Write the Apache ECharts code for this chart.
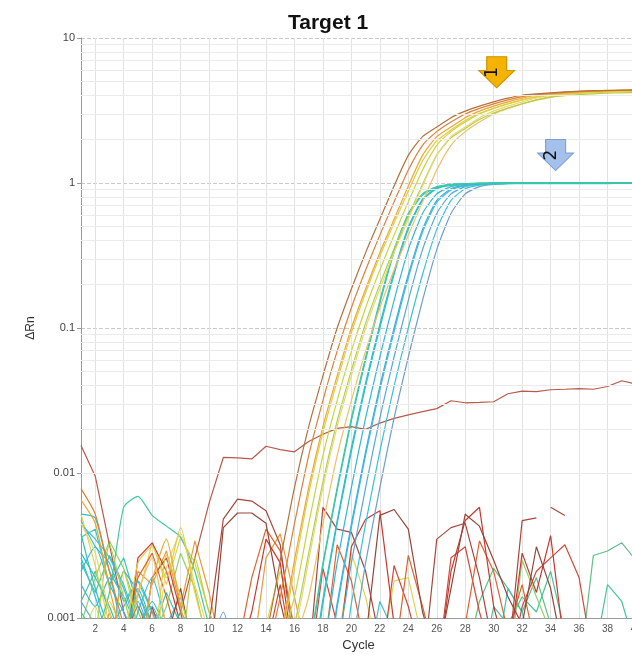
<!DOCTYPE html>
<html>
<head>
<meta charset="utf-8">
<title>Target 1</title>
<script src="https://cdn.jsdelivr.net/npm/echarts@6/dist/echarts.min.js"></script>
<style>
  html, body { margin: 0; padding: 0; background: #ffffff; }
  #chart { width: 632px; height: 656px; }
</style>
</head>
<body>
<div id="chart"></div>
<script>
// Amplification plot: delta Rn per cycle on a log scale.
const cycles = [1,2,3,4,5,6,7,8,9,10,11,12,13,14,15,16,17,18,19,20,21,22,23,24,25,26,27,28,29,30,31,32,33,34,35,36,37,38,39,40];

// Log-axis decade labels
const yTicks = [0.001, 0.01, 0.1, 1, 10];
// Faint lines between the decades (2..9 of each decade)
const minorLevels = [0.002,0.003,0.004,0.005,0.006,0.007,0.008,0.009,
                     0.02,0.03,0.04,0.05,0.06,0.07,0.08,0.09,
                     0.2,0.3,0.4,0.5,0.6,0.7,0.8,0.9,
                     2,3,4,5,6,7,8,9];

// Target 1, detector 1 wells (plateau about 4.3)
const wellA1 = [0.0006,0.0009,0.0005,0.0007,0.0012,0.0006,0.0004,0.0007,0.0005,0.0008,0.0006,0.0005,0.0007,0.00079,0.0025,0.00794,0.0209,0.0468,0.1,0.186,0.331,0.562,0.955,1.55,2.09,2.43,2.82,3.13,3.39,3.63,3.85,4.03,4.12,4.19,4.25,4.30,4.33,4.35,4.37,4.39];
const wellA2 = [0.0078,0.0052,0.0021,0.0009,0.0006,0.0011,0.0007,0.0005,0.0008,0.0006,0.0005,0.0007,0.0009,0.0006,0.0014,0.00447,0.0132,0.0316,0.0692,0.138,0.251,0.437,0.741,1.23,1.82,2.26,2.63,2.99,3.27,3.51,3.74,3.94,4.07,4.16,4.22,4.27,4.32,4.34,4.36,4.38];
const wellA3 = [0.0065,0.0045,0.0016,0.0007,0.0005,0.0018,0.0035,0.0012,0.0006,0.0008,0.0005,0.0006,0.0004,0.0007,0.00079,0.0025,0.00794,0.0209,0.0468,0.1,0.186,0.331,0.562,0.955,1.55,2.09,2.43,2.82,3.13,3.39,3.63,3.85,4.03,4.12,4.19,4.25,4.30,4.33,4.35,4.37];
const wellA4 = [0.0009,0.0006,0.0013,0.0008,0.0024,0.0031,0.0019,0.0042,0.0015,0.0007,0.0006,0.0009,0.0005,0.0006,0.0007,0.0022,0.0072,0.019,0.043,0.093,0.175,0.312,0.53,0.88,1.42,1.95,2.32,2.7,3.02,3.28,3.52,3.74,3.92,4.03,4.1,4.16,4.2,4.23,4.25,4.27];
const wellA5 = [0.0007,0.0012,0.0005,0.0021,0.0009,0.0006,0.0027,0.0014,0.0006,0.0005,0.0008,0.0006,0.0009,0.0005,0.0007,0.0014,0.00447,0.0132,0.0316,0.0692,0.138,0.251,0.437,0.741,1.23,1.82,2.26,2.63,2.99,3.27,3.51,3.74,3.94,4.07,4.16,4.22,4.27,4.31,4.33,4.35];
const wellA6 = [0.0045,0.0028,0.0011,0.0006,0.0008,0.0005,0.0022,0.0038,0.0017,0.0008,0.0005,0.0007,0.0006,0.0009,0.0005,0.00079,0.0025,0.00794,0.0209,0.0468,0.1,0.186,0.331,0.562,0.955,1.55,2.09,2.43,2.82,3.13,3.39,3.63,3.85,4.03,4.12,4.19,4.25,4.30,4.33,4.35];
const wellA7 = [0.0006,0.0008,0.0032,0.0014,0.0007,0.0009,0.0005,0.0006,0.0026,0.0011,0.0007,0.0005,0.0008,0.0006,0.0005,0.0009,0.0028,0.0087,0.0228,0.051,0.108,0.2,0.352,0.59,0.98,1.56,2.05,2.38,2.74,3.04,3.29,3.52,3.73,3.9,4.0,4.07,4.12,4.16,4.19,4.21];
const wellA8 = [0.0008,0.0005,0.0007,0.0005,0.0015,0.0026,0.0009,0.0006,0.0005,0.0008,0.0006,0.0005,0.0009,0.0006,0.0005,0.0007,0.0014,0.00447,0.0132,0.0316,0.0692,0.138,0.251,0.437,0.741,1.23,1.82,2.26,2.63,2.99,3.27,3.51,3.74,3.94,4.07,4.16,4.22,4.27,4.31,4.33];

// Target 1, detector 2 wells (plateau about 1.0)
const wellB1 = [0.0011,0.0008,0.0015,0.0058,0.0069,0.0051,0.0043,0.0036,0.0021,0.0009,0.0006,0.0005,0.0008,0.0006,0.0005,0.0004,0.00063,0.0024,0.00794,0.024,0.0631,0.155,0.347,0.617,0.841,0.944,0.977,0.989,0.995,0.998,1.0,1.0,1.002,1.0,1.003,1.001,1.0,1.002,1.003,1.002];
const wellB2 = [0.0028,0.0019,0.0012,0.0007,0.0016,0.0009,0.0005,0.0011,0.0007,0.0005,0.0006,0.0004,0.0007,0.0005,0.0006,0.0004,0.0006,0.0023,0.0076,0.0229,0.06,0.148,0.333,0.598,0.825,0.93,0.965,0.978,0.985,0.988,0.99,0.991,0.99,0.992,0.991,0.99,0.992,0.991,0.993,0.992];
const wellB3 = [0.0052,0.0049,0.0021,0.0014,0.0009,0.0013,0.0008,0.0005,0.0007,0.0006,0.0005,0.0008,0.0006,0.0005,0.0007,0.0004,0.000316,0.00126,0.00447,0.0141,0.0398,0.1,0.234,0.479,0.759,0.912,0.966,0.984,0.993,0.997,1.0,1.001,1.0,1.002,1.001,1.0,1.001,1.002,1.0,1.001];
const wellB4 = [0.0038,0.0016,0.0009,0.0012,0.0018,0.0011,0.0006,0.0005,0.0008,0.0005,0.0004,0.0006,0.0005,0.0007,0.0004,0.0005,0.0004,0.00135,0.0047,0.015,0.042,0.106,0.245,0.495,0.775,0.925,0.975,0.99,0.998,1.002,1.005,1.004,1.006,1.005,1.007,1.006,1.005,1.007,1.006,1.008];
const wellB5 = [0.0021,0.0031,0.0017,0.0011,0.0007,0.0005,0.0009,0.0006,0.0004,0.0005,0.0007,0.0005,0.0004,0.0006,0.0005,0.0004,0.0005,0.00063,0.0024,0.00794,0.024,0.0631,0.155,0.347,0.617,0.841,0.944,0.977,0.989,0.995,0.998,1.0,1.001,1.0,1.002,1.001,1.0,1.002,1.001,1.0];
const wellB6 = [0.0017,0.0012,0.0019,0.0008,0.0013,0.0007,0.0005,0.0006,0.0004,0.0005,0.0006,0.0004,0.0005,0.0007,0.0004,0.0005,0.0004,0.000316,0.00126,0.00447,0.0141,0.0398,0.1,0.234,0.479,0.759,0.912,0.966,0.984,0.993,0.997,1.0,1.0,1.001,1.0,1.002,1.001,1.0,1.001,1.0];
const wellB7 = [0.0044,0.0035,0.0026,0.0016,0.0009,0.0012,0.0007,0.0005,0.0004,0.0006,0.0005,0.0004,0.0006,0.0005,0.0004,0.0005,0.0004,0.0003,0.00118,0.0042,0.0133,0.0375,0.094,0.222,0.458,0.735,0.895,0.955,0.976,0.987,0.992,0.995,0.997,0.996,0.998,0.997,0.998,0.997,0.996,0.998];
const wellB8 = [0.0013,0.0009,0.0006,0.0021,0.0015,0.0008,0.0005,0.0004,0.0006,0.0005,0.0004,0.0005,0.0006,0.0004,0.0005,0.0004,0.0005,0.0004,0.00063,0.0024,0.00794,0.024,0.0631,0.155,0.347,0.617,0.841,0.944,0.977,0.989,0.995,0.998,1.0,1.001,1.0,0.999,1.001,1.0,1.001,1.0];
const wellB9 = [0.0026,0.0014,0.0007,0.0005,0.0011,0.0019,0.0009,0.0005,0.0004,0.0006,0.0005,0.0004,0.0005,0.0004,0.0006,0.0004,0.0005,0.0004,0.000316,0.00126,0.00447,0.0141,0.0398,0.1,0.234,0.479,0.759,0.912,0.966,0.984,0.993,0.997,1.0,1.001,1.0,1.002,1.0,1.001,1.0,1.002];
const wellB10 = [0.0009,0.0006,0.0005,0.0004,0.0006,0.0005,0.0004,0.0005,0.0004,0.0006,0.0011,0.0005,0.0004,0.0005,0.0004,0.0006,0.0004,0.0005,0.0004,0.00063,0.0024,0.00794,0.024,0.0631,0.155,0.347,0.617,0.841,0.944,0.977,0.989,0.995,0.998,1.0,1.0,1.001,1.0,1.0,1.001,1.0];

// Well with a slowly drifting baseline
const wellDrift = [0.0155,0.0095,0.0032,0.0011,0.0006,0.0005,0.0007,0.0011,0.0026,0.0062,0.0128,0.0127,0.0125,0.0153,0.0145,0.014,0.0165,0.0185,0.0203,0.0209,0.0200,0.0221,0.0238,0.0252,0.0265,0.0278,0.0315,0.0305,0.0307,0.031,0.0352,0.0367,0.0364,0.0375,0.0378,0.0382,0.0378,0.0395,0.0433,0.041];

// No-template wells: baseline noise only (null = negative delta Rn, not drawable on log scale)
const wellN1 = [0.0005,0.0004,0.0006,0.0005,0.0004,0.0012,0.0006,0.0004,0.0005,0.0009,0.0048,0.0066,0.0064,0.0055,0.0032,0.0006,0.0005,0.0058,0.0041,0.0039,0.0021,0.0007,0.0005,0.0006,0.0004,0.0035,0.0042,0.0045,0.0019,0.0006,0.0005,0.0047,0.0049,null,null,null,0.0005,0.0004,0.0005,0.0004];
const wellN2 = [0.0004,0.0006,0.0005,0.0004,0.0026,0.0033,0.0021,0.0009,0.0005,0.0004,0.0006,0.0005,0.0011,0.0035,0.0024,0.0005,0.0006,0.0004,0.0005,0.0031,0.0048,0.0055,0.0009,0.0005,0.0006,0.0004,0.0021,0.0047,0.0058,0.0012,0.0005,0.0028,0.0015,0.0037,0.0006,0.0004,0.0005,0.0004,0.0005,0.0004];
const wellN3 = [0.0004,0.0005,0.0004,0.0007,0.0019,0.0028,0.0014,0.0006,0.0004,0.0005,0.0004,0.0006,0.0019,0.0041,0.0029,0.0008,0.0004,0.0005,0.0032,0.0018,0.0006,0.0004,0.0005,0.0027,0.0012,0.0005,0.0004,0.0009,0.0034,0.0021,0.0008,0.0017,0.0006,0.0004,0.0005,0.0004,0.0005,0.0004,0.0005,0.0004];
const wellN4 = [0.0005,0.0004,0.0005,0.0006,0.0004,0.0005,0.0007,0.0016,0.0005,0.0004,0.0042,0.0053,0.0053,0.0045,0.0013,0.0005,0.0004,0.0005,0.0006,0.0005,0.0007,0.0051,0.0056,0.0041,0.0011,0.0005,0.0016,0.0052,0.0043,0.0025,0.0014,0.0009,0.0031,0.0016,0.0005,0.0004,0.0005,0.0004,0.0005,0.0004];
const wellN5 = [null,null,null,null,null,null,null,null,null,null,null,null,null,null,null,null,null,null,null,null,null,null,null,null,null,null,null,null,null,null,null,null,null,0.0058,0.0051,null,null,null,null,null];
const wellN6 = [0.0004,0.0005,0.0004,0.0005,0.0004,0.0019,0.0026,0.0011,0.0004,0.0005,0.0004,0.0005,0.0004,0.0006,0.0017,0.0005,0.0004,0.0022,0.0009,0.0004,0.0005,0.0004,0.0023,0.0012,0.0005,0.0004,0.0026,0.0031,0.0011,0.0005,0.0004,0.0012,0.0021,0.0026,0.0032,0.0019,0.0005,0.0004,0.0005,0.0004];
const wellN7 = [0.0047,0.0031,0.0024,0.0013,0.0018,0.0011,0.0009,0.0014,0.0006,0.0005,0.0004,0.0005,0.0004,0.0005,0.0004,0.0005,0.0004,0.0005,0.0004,0.0005,0.0004,0.0013,0.0008,0.0005,0.0004,0.0005,0.0004,0.0005,0.0004,0.0005,0.0004,0.0005,0.0004,0.0005,0.0004,0.0005,0.0004,0.0005,0.0004,0.0005];
const wellN8 = [0.0036,0.0041,0.0017,0.0026,0.0012,0.0008,0.0015,0.0009,0.0005,0.0004,0.0005,0.0004,0.0005,0.0004,0.0005,0.0004,0.0005,0.0004,0.0005,0.0004,0.0005,0.0004,0.0005,0.0004,0.0005,0.0004,0.0005,0.0004,0.0005,0.0004,0.0016,0.0011,0.0005,0.0004,0.0005,0.0004,0.0005,0.0004,0.0005,0.0004];
const wellN9 = [0.0052,0.0023,0.0009,0.0006,0.0014,0.0033,0.0017,0.0036,0.0024,0.0011,0.0006,0.0005,0.0004,0.0009,0.0021,0.0009,0.0005,0.0004,0.0006,0.0028,0.0014,0.0005,0.0018,0.0019,0.0007,0.0004,0.0005,0.0004,0.0005,0.0004,0.0005,0.0004,0.0005,0.0004,0.0005,0.0004,0.0005,0.0004,0.0005,0.0004];
const wellN10 = [0.0009,0.0019,0.0034,0.0022,0.0011,0.0007,0.0012,0.0028,0.0016,0.0006,0.0004,0.0005,0.0004,0.0005,0.0004,0.0005,0.0004,0.0005,0.0004,0.0005,0.0004,0.0005,0.0004,0.0005,0.0004,0.0005,0.0004,0.0005,0.0004,0.0005,0.0004,0.0025,0.0014,0.0008,0.0005,0.0004,0.0005,0.0004,0.0005,0.0004];
const wellN11 = [0.0006,0.0005,0.0011,0.0004,0.0021,0.0017,0.0029,0.0012,0.0034,0.0015,0.0005,0.0004,0.0005,0.0026,0.0038,0.0014,0.0005,0.0004,0.0005,0.0004,0.0005,0.0004,0.0005,0.0004,0.0005,0.0004,0.0005,0.0004,0.0005,0.0004,0.0005,0.0004,0.0005,0.0004,0.0005,0.0004,0.0005,0.0004,0.0005,0.0004];
const wellG1 = [0.0013,0.0021,0.0011,0.0006,0.0015,0.0009,0.0005,0.0006,0.0004,0.0005,0.0004,0.0005,0.0004,0.0005,0.0004,0.0005,0.0004,0.0005,0.0004,0.0005,0.0004,0.0005,0.0004,0.0005,0.0004,0.0005,0.0004,0.0005,0.0013,0.0022,0.0016,0.0011,0.0019,0.0009,0.0005,0.0004,0.0027,0.0029,0.0033,0.0025];
const wellG2 = [0.0024,0.0015,0.0027,0.0017,0.0009,0.0005,0.0004,0.0005,0.0004,0.0005,0.0004,0.0005,0.0004,0.0005,0.0004,0.0005,0.0004,0.0005,0.0004,0.0005,0.0004,0.0005,0.0004,0.0005,0.0004,0.0005,0.0004,0.0005,0.0004,0.0012,0.0009,0.0014,0.0011,0.0021,0.0008,0.0004,0.0005,0.0017,0.0013,0.0006];

// Threshold-region markers: label, cycle, delta Rn
const markerLabels = ['1', '2'];
const markerCycles = [30, 34];
const markerValues = [5.8, 1.56];

// Drawing order: noise first, detector 2 next, detector 1 on top
const noiseWells = [
  { color: '#5fbf86', data: wellG1 },
  { color: '#49c39c', data: wellG2 },
  { color: '#3cc0d8', data: wellN7 },
  { color: '#37c6b8', data: wellN8 },
  { color: '#e2d24a', data: wellN9 },
  { color: '#8fd26a', data: wellN10 },
  { color: '#eb9a3a', data: wellN11 },
  { color: '#d04a3a', data: wellN6 },
  { color: '#e0622c', data: wellN3 },
  { color: '#c9382e', data: wellN2 },
  { color: '#944538', data: wellN4 },
  { color: '#a8463e', data: wellN1 },
  { color: '#b5473a', data: wellN5 },
  { color: '#b85a4a', data: wellDrift }
];
const amplifiedWells = [
  { color: '#6c9fca', data: wellB10 },
  { color: '#37c2dc', data: wellB9 },
  { color: '#56a9d8', data: wellB8 },
  { color: '#47bde2', data: wellB7 },
  { color: '#3cb0dc', data: wellB6 },
  { color: '#33b6d6', data: wellB5 },
  { color: '#2fbccb', data: wellB4 },
  { color: '#2cc1c3', data: wellB3 },
  { color: '#34c3b2', data: wellB2 },
  { color: '#3ec9a2', data: wellB1 },
  { color: '#efbf63', data: wellA8 },
  { color: '#b2cf45', data: wellA7 },
  { color: '#e8d874', data: wellA6 },
  { color: '#c9d43c', data: wellA5 },
  { color: '#e5cc3e', data: wellA4 },
  { color: '#e9a832', data: wellA3 },
  { color: '#e07f35', data: wellA2 },
  { color: '#b5713a', data: wellA1 }
];

const markerStyles = [
  { fill: '#f5b300', stroke: '#c98f00', dx: 3 },
  { fill: '#a3c1ea', stroke: '#7d9fd0', dx: 5 }
];

const arrowPath = 'path://M8,0L28,0L28,14L36,14L18,32L0,14L8,14Z';

const chart = echarts.init(document.getElementById('chart'), null, { renderer: 'canvas' });

function wellSeries(w, smooth) {
  return {
    type: 'line',
    data: w.data,
    symbol: 'none',
    showSymbol: false,
    connectNulls: false,
    clip: true,
    smooth: smooth,
    z: 3,
    silent: true,
    lineStyle: { color: w.color, width: 1.2 },
    emphasis: { disabled: true }
  };
}

const series = [];

// Helper series carrying the minor grid lines
series.push({
  type: 'line',
  data: cycles.map(() => null),
  symbol: 'none',
  silent: true,
  z: 1,
  markLine: {
    silent: true,
    symbol: ['none', 'none'],
    label: { show: false },
    lineStyle: { color: '#ebebeb', type: 'solid', width: 1 },
    emphasis: { disabled: true },
    animation: false,
    data: minorLevels.map(v => ({ yAxis: v }))
  }
});

noiseWells.forEach(w => series.push(wellSeries(w, false)));
amplifiedWells.forEach(w => series.push(wellSeries(w, 0.2)));

// Arrow markers over the plateaus
series.push({
  type: 'line',
  data: cycles.map(() => null),
  symbol: 'none',
  silent: true,
  z: 6,
  markPoint: {
    silent: true,
    symbol: arrowPath,
    symbolSize: [36, 31],
    animation: false,
    data: markerLabels.map((lab, i) => ({
      coord: [String(markerCycles[i]), markerValues[i]],
      symbolOffset: [markerStyles[i].dx, 0],
      itemStyle: { color: markerStyles[i].fill, borderColor: markerStyles[i].stroke, borderWidth: 1 },
      label: {
        show: true,
        formatter: lab,
        rotate: 90,
        color: '#111',
        fontSize: 17,
        fontFamily: 'DejaVu Sans',
        offset: [0, -4]
      }
    }))
  }
});

chart.setOption({
  animation: false,
  backgroundColor: '#ffffff',
  title: {
    text: 'Target 1',
    left: 283,
    top: 8,
    textStyle: { fontSize: 21, fontWeight: 'bold', fontFamily: 'Liberation Sans', color: '#111' }
  },
  grid: {
    left: 81,
    right: -4,
    top: 38,
    bottom: 38,
    outerBoundsMode: 'none',
    containLabel: false
  },
  xAxis: {
    type: 'category',
    data: cycles,
    boundaryGap: false,
    name: 'Cycle',
    nameLocation: 'middle',
    nameGap: 21,
    nameTextStyle: { fontSize: 13, color: '#333', fontFamily: 'Liberation Sans' },
    axisLine: { show: true, lineStyle: { color: '#9a9a9a', width: 1 } },
    axisTick: { show: false },
    axisLabel: {
      interval: (i, v) => Number(v) % 2 === 0,
      color: '#555',
      fontSize: 10,
      margin: 6,
      fontFamily: 'Liberation Sans'
    },
    splitLine: {
      show: true,
      interval: (i, v) => Number(v) % 2 === 0,
      lineStyle: { color: '#e2e2e2', width: 1 }
    }
  },
  yAxis: {
    type: 'log',
    logBase: 10,
    min: yTicks[0],
    max: yTicks[yTicks.length - 1],
    name: 'ΔRn',
    nameLocation: 'middle',
    nameGap: 44,
    nameTextStyle: { fontSize: 12, color: '#333', fontFamily: 'Liberation Sans' },
    axisLine: { show: true, lineStyle: { color: '#9a9a9a', width: 1 } },
    axisTick: { show: true, length: 4, lineStyle: { color: '#9a9a9a' } },
    axisLabel: {
      color: '#444',
      fontSize: 11,
      margin: 6,
      fontFamily: 'Liberation Sans',
      formatter: v => String(Number(Number(v).toPrecision(3)))
    },
    splitLine: { show: true, lineStyle: { color: '#c9c9c9', type: 'dashed', width: 1 } }
  },
  series: series
});
</script>
</body>
</html>
